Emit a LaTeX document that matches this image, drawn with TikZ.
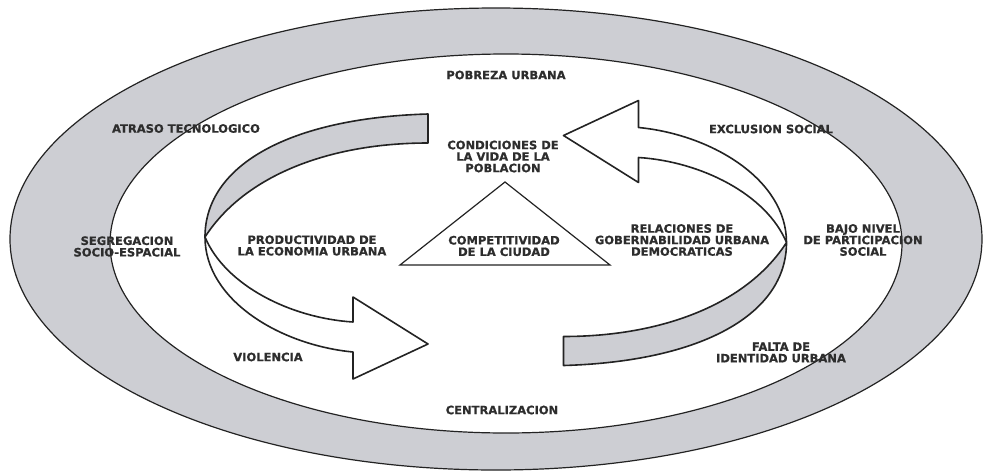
\documentclass[tikz,border=0pt]{standalone}
\usepackage{fontspec}
\newfontfamily\labfont{DejaVu Sans}[FakeBold=0.8]
\definecolor{ringgray}{RGB}{205,206,211}
\definecolor{labcol}{RGB}{45,45,45}
\definecolor{linecol}{RGB}{35,35,35}
\tikzset{
  lab/.style={font=\labfont\bfseries\fontsize{11.5}{11.5}\selectfont, text=labcol, align=center, inner sep=0pt},
  ringline/.style={draw=linecol, line width=1.2pt},
  ribbonline/.style={draw=linecol, line width=1.6pt, line join=round},
}
\begin{document}
\begin{tikzpicture}[x=1pt,y=-1pt]
\useasboundingbox (0,0) rectangle (986,472);
\fill[white] (0,0) rectangle (986,472);
% ring
\fill[ringgray] (496,239) ellipse [x radius=486pt, y radius=231pt];
\draw[ringline] (496,239) ellipse [x radius=486pt, y radius=231pt];
\fill[white] (506,243.5) ellipse [x radius=396pt, y radius=189.5pt];
\draw[ringline] (506,243.5) ellipse [x radius=396pt, y radius=189.5pt];
% ribbons
\foreach \ang in {0,180}{
\begin{scope}[rotate around={\ang:(495.75,239.75)}]
\fill[white] (428,114) .. controls (290,118) and (205,165) .. (205,237)
  .. controls (205,300) and (280,345) .. (353,352) -- (353,379) -- (428,344)
  -- (353,297) -- (353,322) .. controls (290,318) and (225,285) .. (205,237)
  .. controls (245,175) and (330,143) .. (428,143) -- cycle;
\fill[ringgray] (428,114) .. controls (290,118) and (205,165) .. (205,237)
  .. controls (245,175) and (330,143) .. (428,143) -- cycle;
\draw[ribbonline] (428,114) .. controls (290,118) and (205,165) .. (205,237)
  .. controls (205,300) and (280,345) .. (353,352) -- (353,379) -- (428,344)
  -- (353,297) -- (353,322) .. controls (290,318) and (225,285) .. (205,237)
  .. controls (245,175) and (330,143) .. (428,143) -- cycle;
\end{scope}
}
% triangle
\draw[ringline, line join=miter] (505,182) -- (610,265) -- (400,265) -- cycle;
% labels
\node[lab] (pobreza) at (506,75) {POBREZA URBANA};
\node[lab] (atraso) at (186,128.5) {ATRASO TECNOLOGICO};
\node[lab] (exclusion) at (771,129) {EXCLUSION SOCIAL};
\node[lab] (condiciones) at (503,156.5) {CONDICIONES DE\\LA VIDA DE LA\\POBLACION};
\node[lab] (segregacion) at (127,246.5) {SEGREGACION\\SOCIO-ESPACIAL};
\node[lab] (productividad) at (312,245.5) {PRODUCTIVIDAD DE\\LA ECONOMIA URBANA};
\node[lab] (competitividad) at (504,246) {COMPETITIVIDAD\\DE LA CIUDAD};
\node[lab] (relaciones) at (682,240) {RELACIONES DE\\GOBERNABILIDAD URBANA\\DEMOCRATICAS};
\node[lab] (bajo) at (863,240) {BAJO NIVEL\\DE PARTICIPACION\\SOCIAL};
\node[lab] (falta) at (781,352.5) {FALTA DE\\IDENTIDAD URBANA};
\node[lab] (violencia) at (268,357) {VIOLENCIA};
\node[lab] (centralizacion) at (502,410) {CENTRALIZACION};
\end{tikzpicture}
\end{document}
